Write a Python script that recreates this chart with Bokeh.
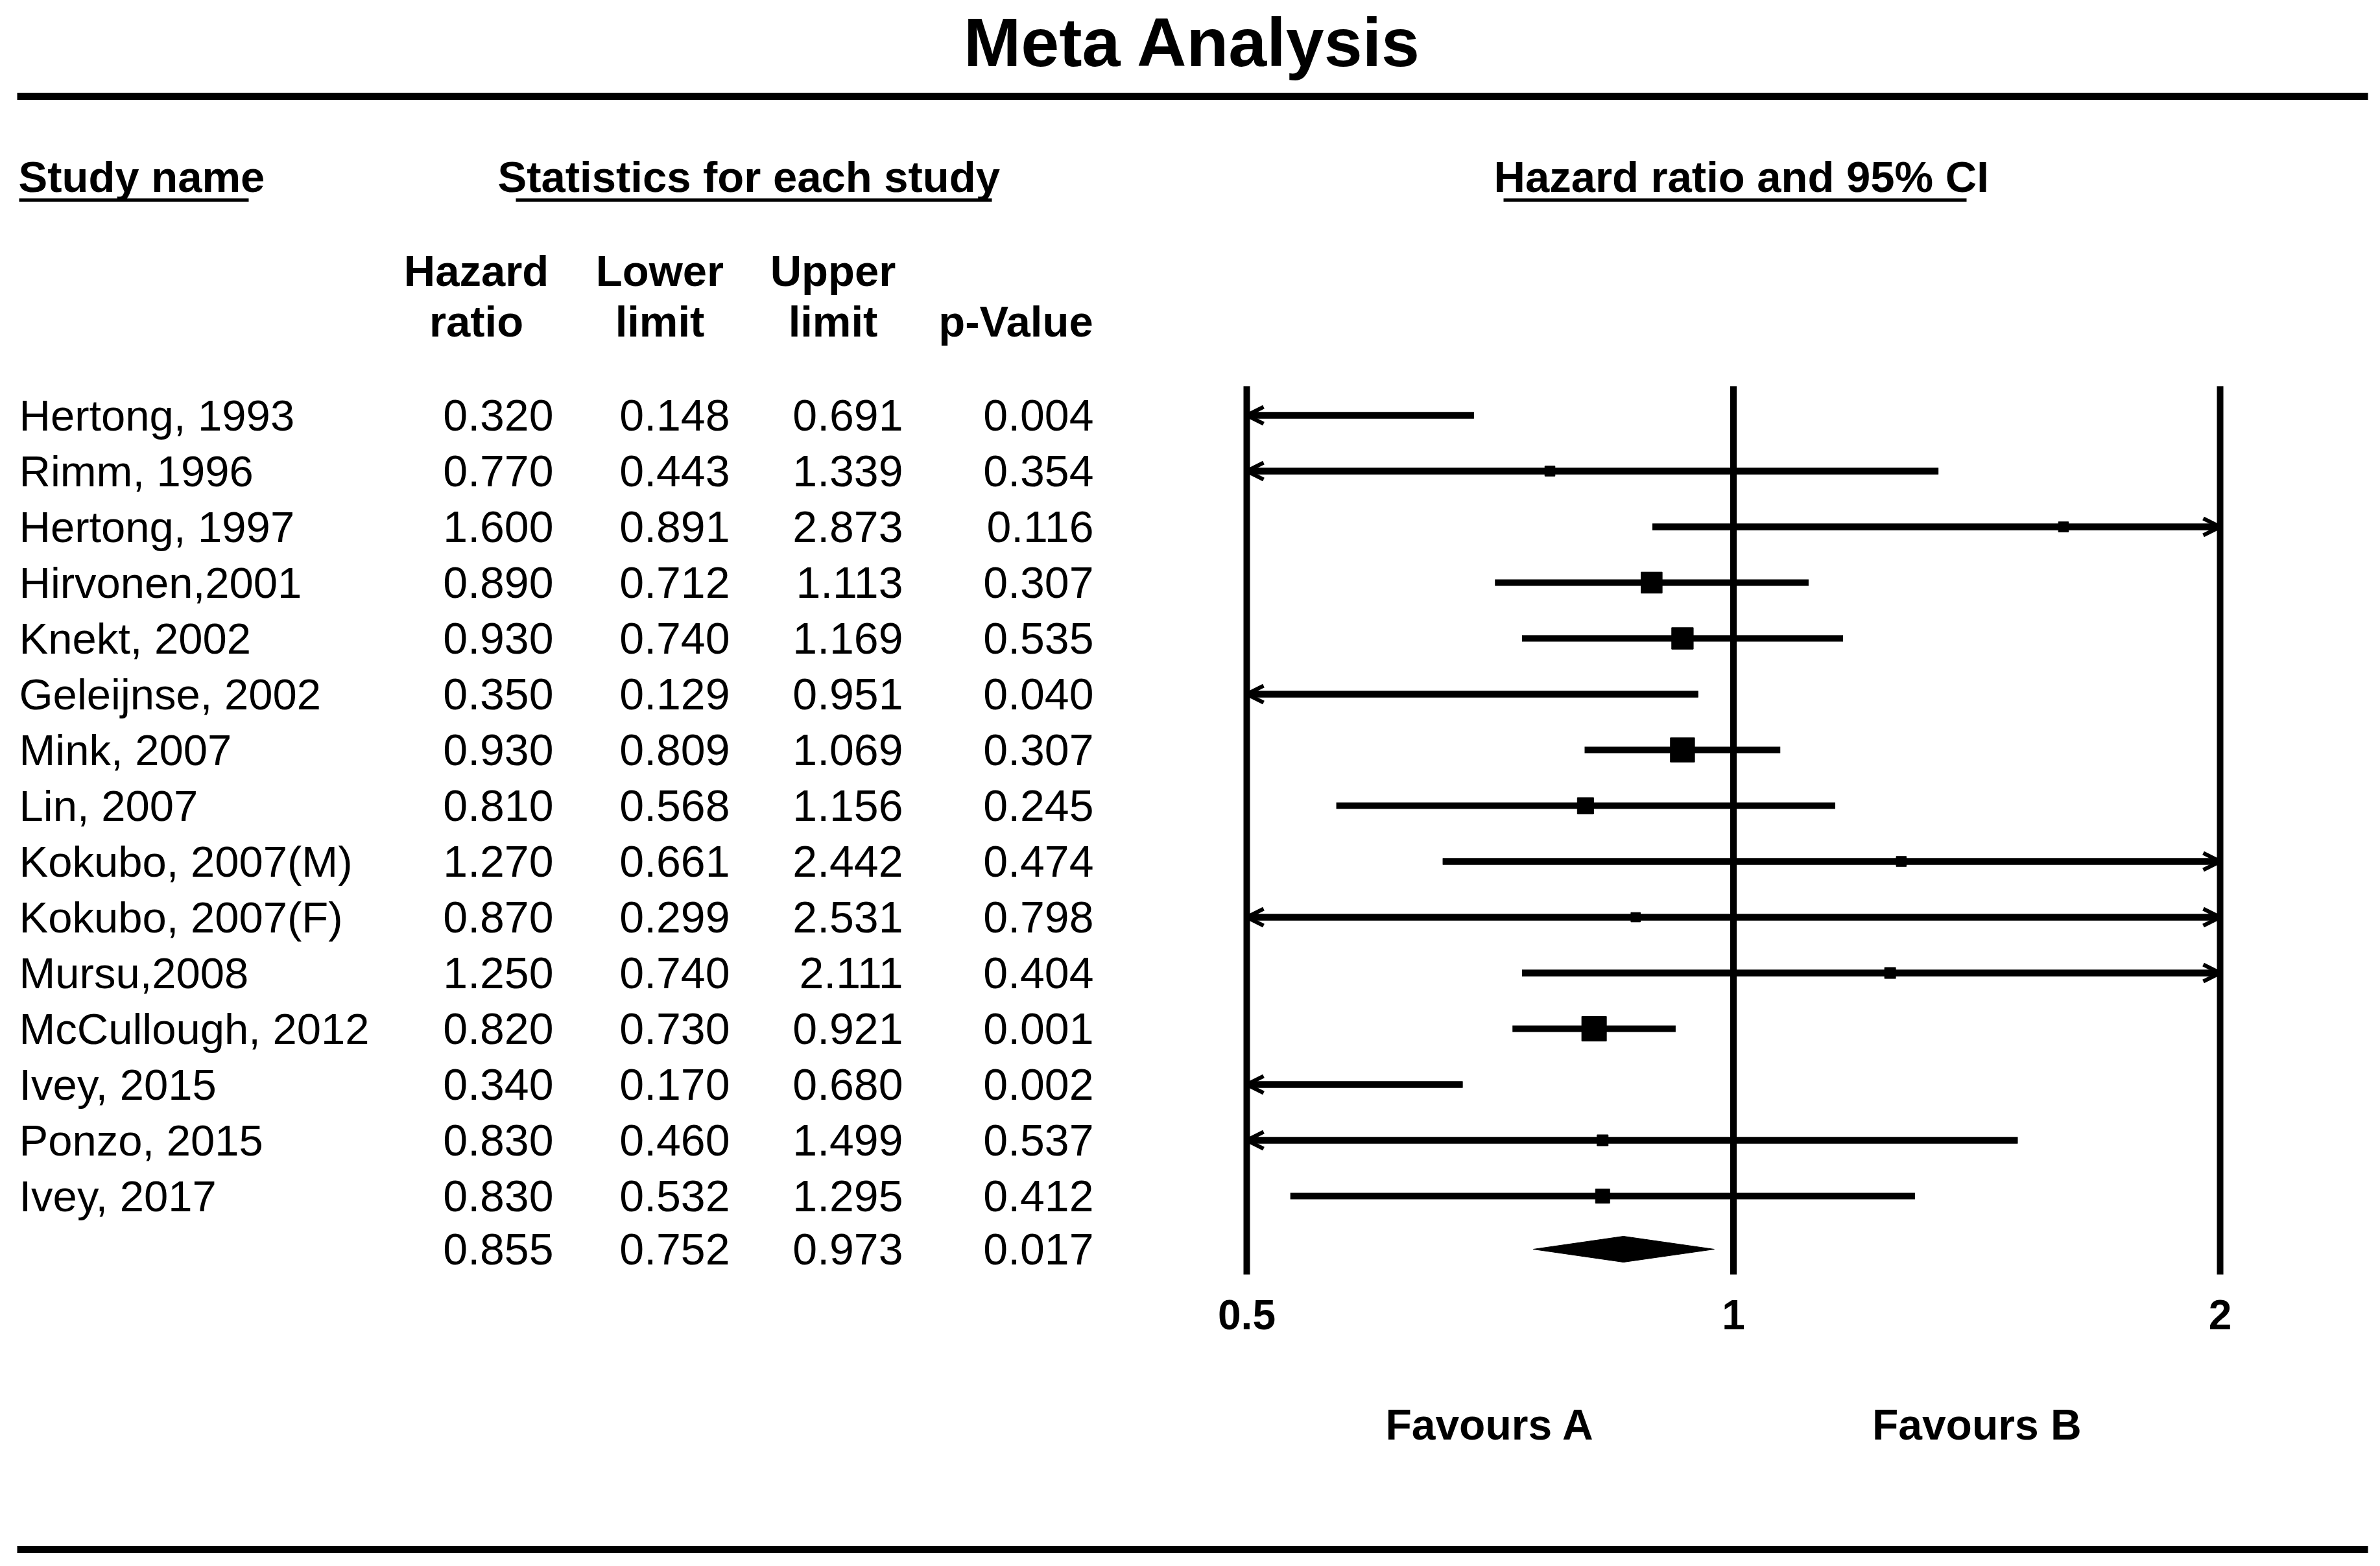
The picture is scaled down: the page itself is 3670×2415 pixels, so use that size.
import math
from bokeh.plotting import figure
from bokeh.models import Range1d, LogScale, ColumnDataSource, Arrow, OpenHead
from bokeh.core.properties import value
from bokeh.embed import file_html
from bokeh.resources import INLINE

# ---------------- data ----------------
studies = ["Hertong, 1993", "Rimm, 1996", "Hertong, 1997", "Hirvonen,2001", "Knekt, 2002",
           "Geleijnse, 2002", "Mink, 2007", "Lin, 2007", "Kokubo, 2007(M)", "Kokubo, 2007(F)",
           "Mursu,2008", "McCullough, 2012", "Ivey, 2015", "Ponzo, 2015", "Ivey, 2017"]
hazard_ratio = [0.320, 0.770, 1.600, 0.890, 0.930, 0.350, 0.930, 0.810, 1.270, 0.870,
                1.250, 0.820, 0.340, 0.830, 0.830]
lower_limit = [0.148, 0.443, 0.891, 0.712, 0.740, 0.129, 0.809, 0.568, 0.661, 0.299,
               0.740, 0.730, 0.170, 0.460, 0.532]
upper_limit = [0.691, 1.339, 2.873, 1.113, 1.169, 0.951, 1.069, 1.156, 2.442, 2.531,
               2.111, 0.921, 0.680, 1.499, 1.295]
p_value = [0.004, 0.354, 0.116, 0.307, 0.535, 0.040, 0.307, 0.245, 0.474, 0.798,
           0.404, 0.001, 0.002, 0.537, 0.412]
# relative weights
rel_weight = [1.0, 2.5, 2.5, 11.0, 11.5, 0.6, 14.5, 6.5, 2.5, 2.2, 3.0, 15.0, 1.0, 3.0, 5.0]

summary_hr = 0.855
summary_lower = 0.752
summary_upper = 0.973
summary_p = 0.017

axis_ticks = [0.5, 1, 2]
axis_tick_labels = ["0.5", "1", "2"]
axis_min, axis_max = 0.5, 2.0

title_text = "Meta Analysis"
section_headers = ["Study name", "Statistics for each study", "Hazard ratio and 95% CI"]
col_headers_1 = ["Hazard", "Lower", "Upper", ""]
col_headers_2 = ["ratio", "limit", "limit", "p-Value"]
favours_labels = ["Favours A", "Favours B"]

# ---------------- layout (screen px) ----------------
W, H = 3654, 2399
M = 0
FONT = "Liberation Sans"
px_lo, px_hi = 1922, 3423          # pixel of axis_min, axis_max
b = (px_hi - px_lo) / math.log(axis_max / axis_min)
px_one = px_lo - b * math.log(axis_min)
hr_start = math.exp((M - px_one) / b)
hr_end = math.exp((M + W - px_one) / b)

row_y0, row_step = 640, 86

p = figure(width=W, height=H, x_range=Range1d(M, M + W), y_range=Range1d(M + H, M),
           x_axis_type=None, y_axis_type=None, toolbar_location=None,
           output_backend="svg", min_border=0, outline_line_color=None)
p.grid.visible = False
p.background_fill_color = "white"
p.border_fill_color = "white"
p.extra_x_ranges = {"hr": Range1d(hr_start, hr_end)}
p.extra_x_scales = {"hr": LogScale()}

n = len(studies)
rows = list(range(n))
row_c = [row_y0 + row_step * i for i in rows]
sum_c = row_y0 + row_step * n - 4


def txt(xs, ys, texts, size, bold=False, align="left", **kw):
    p.text(x=xs, y=ys, text=texts, text_font=value(FONT),
           text_font_style="bold" if bold else "normal", text_font_size=f"{size}px",
           text_align=align, text_baseline="middle", text_color="black", **kw)


# title and rules
txt([1839], [64], [title_text], 106, bold=True, align="center")
p.segment(x0=[26, 26], x1=[3651, 3651], y0=[148, 2389], y1=[148, 2389], line_color="black",
          line_width=11)

# section headers with underlines
txt([28, 767, 2303], [272] * 3, section_headers, 67, bold=True)
p.segment(x0=[29, 795, 2318], x1=[383, 1529, 3032], y0=[308] * 3, y1=[308] * 3,
          line_color="black", line_width=5)

# column headers
col_centers = [734, 1017, 1284, 1566]
txt(col_centers, [417] * 4, col_headers_1, 67, bold=True, align="center")
txt(col_centers, [495] * 4, col_headers_2, 67, bold=True, align="center")

# table body
txt([29] * n, row_c, studies, 67)
col_rights = [853, 1125, 1392, 1686]
cols = [hazard_ratio + [summary_hr], lower_limit + [summary_lower],
        upper_limit + [summary_upper], p_value + [summary_p]]
for xr, vals in zip(col_rights, cols):
    txt([xr] * (n + 1), row_c + [sum_c], ["%.3f" % v for v in vals], 68, align="right")

# forest plot: reference vertical lines
p.segment(x0=axis_ticks, x1=axis_ticks, y0=[595] * 3, y1=[1965] * 3, line_color="black",
          line_width=10, x_range_name="hr")
txt(axis_ticks, [2027] * 3, axis_tick_labels, 64, bold=True, align="center",
    x_range_name="hr")
fav_x = [math.sqrt(axis_min * 1.0), math.sqrt(axis_max * 1.0)]
txt(fav_x, [2196] * 2, favours_labels, 66, bold=True, align="center", x_range_name="hr")

# CI lines (clipped)
x0c = [max(l, axis_min) for l in lower_limit]
x1c = [min(u, axis_max) for u in upper_limit]
p.segment(x0=x0c, x1=x1c, y0=row_c, y1=row_c, line_color="black", line_width=10,
          x_range_name="hr")

left_only = [i for i in rows if lower_limit[i] < axis_min and upper_limit[i] <= axis_max]
right_only = [i for i in rows if upper_limit[i] > axis_max and lower_limit[i] >= axis_min]
both = [i for i in rows if lower_limit[i] < axis_min and upper_limit[i] > axis_max]


def head():
    return OpenHead(size=26, line_width=6, line_color="black")


def add_arrows(idx, start_head, end_head, flip):
    if not idx:
        return
    if flip:
        xs = [x1c[i] for i in idx]
        xe = [x0c[i] for i in idx]
    else:
        xs = [x0c[i] for i in idx]
        xe = [x1c[i] for i in idx]
    src = ColumnDataSource(dict(xs=xs, xe=xe, y=[row_c[i] for i in idx]))
    p.add_layout(Arrow(source=src, x_start="xs", x_end="xe", y_start="y", y_end="y",
                       start=start_head, end=end_head, line_color="black", line_width=10,
                       x_range_name="hr"))


add_arrows(left_only, None, head(), True)
add_arrows(right_only, None, head(), False)
add_arrows(both, head(), head(), False)

# point estimates: squares sized by weight
wmax = max(rel_weight)
vis = [i for i in rows if axis_min <= hazard_ratio[i] <= axis_max]
p.scatter(x=[hazard_ratio[i] for i in vis], y=[row_c[i] for i in vis],
          size=[38 * math.sqrt(rel_weight[i] / wmax) for i in vis], marker="square",
          fill_color="black", line_color="black", x_range_name="hr")

# summary diamond
half_h = 20
p.patch(x=[summary_lower, summary_hr, summary_upper, summary_hr],
        y=[sum_c, sum_c - half_h, sum_c, sum_c + half_h], fill_color="black",
        line_color="black", x_range_name="hr")

open("out.html", "w").write(file_html(p, INLINE))
